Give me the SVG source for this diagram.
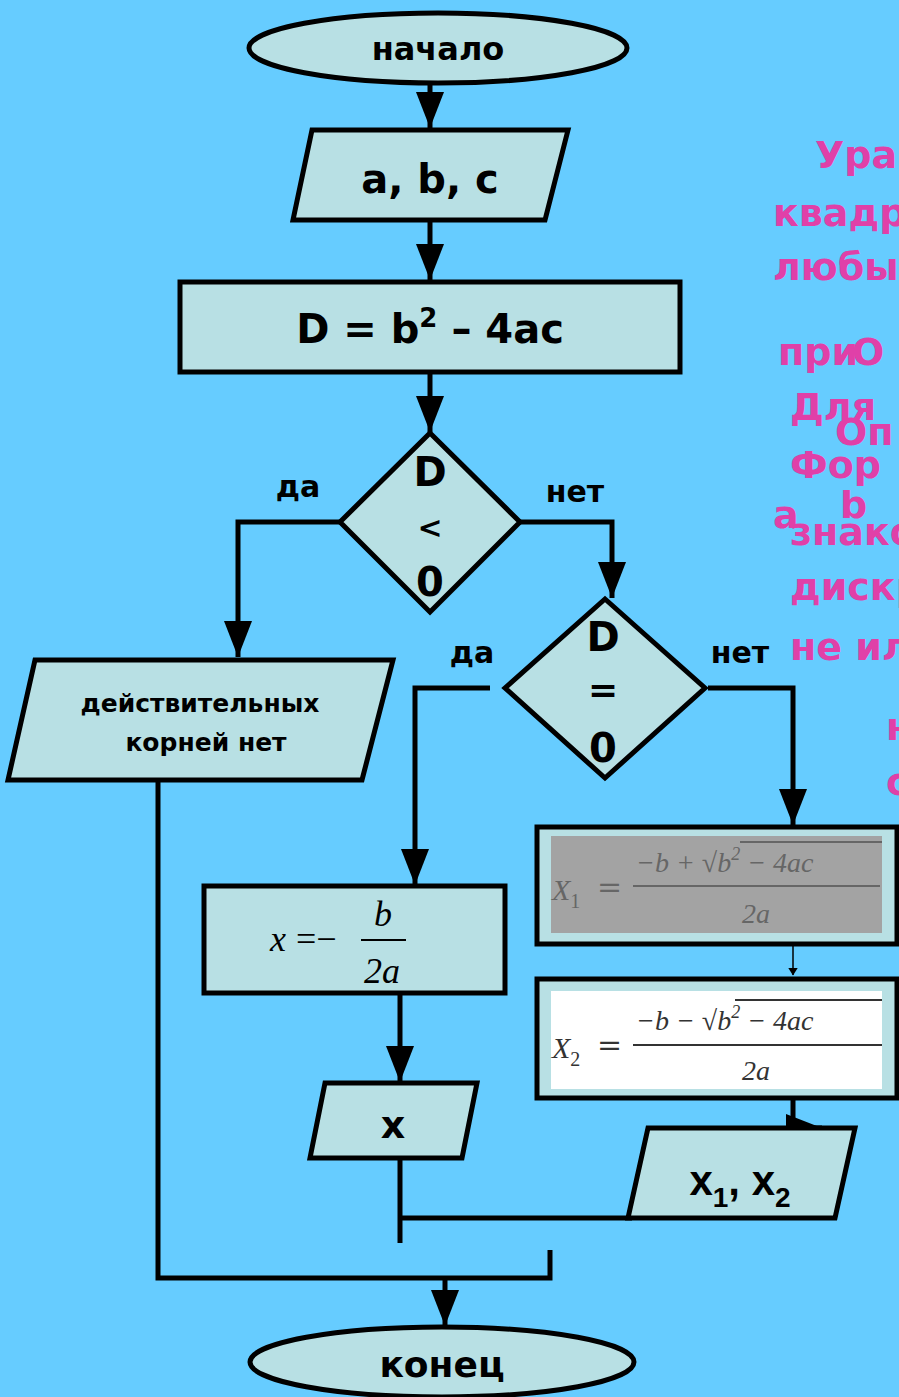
<svg xmlns="http://www.w3.org/2000/svg" width="899" height="1397" viewBox="0 0 899 1397">
<defs>
<style>
.node{fill:#B8E0E4;stroke:#000;stroke-width:5}
.t{font-family:"DejaVu Sans","Liberation Sans",sans-serif;font-weight:bold;fill:#000;text-anchor:middle}
.lbl{font-family:"DejaVu Sans","Liberation Sans",sans-serif;font-weight:bold;fill:#000;font-size:30px;text-anchor:middle}
.pk{font-family:"DejaVu Sans","Liberation Sans",sans-serif;font-weight:bold;fill:#E040A8;font-size:38px}
.ln{fill:none;stroke:#000;stroke-width:5}
.m{font-family:"Liberation Serif","DejaVu Serif",serif;font-style:italic}
</style>
<marker id="ah" markerWidth="8" markerHeight="10" refX="7.5" refY="5" orient="auto" markerUnits="userSpaceOnUse" viewBox="0 0 8 10"><path d="M0,0 L8,5 L0,10 z" fill="#000"/></marker>
<marker id="big" viewBox="0 0 10 10" refX="10" refY="5" markerWidth="36" markerHeight="28" orient="auto" markerUnits="userSpaceOnUse" preserveAspectRatio="none"><path d="M0,0 L10,5 L0,10 z" fill="#000"/></marker>
</defs>
<rect x="0" y="0" width="899" height="1397" fill="#66CCFF"/>

<g id="side-text">
<text class="pk" x="815" y="168">Ура</text>
<text class="pk" x="773" y="226">квадр</text>
<text class="pk" x="773" y="280">любы</text>
<text class="pk" x="778" y="365">при</text>
<text class="pk" x="852" y="365">О</text>
<text class="pk" x="790" y="420">Для</text>
<text class="pk" x="835" y="445">Оп</text>
<text class="pk" x="790" y="478">Фор</text>
<text class="pk" x="773" y="528">a</text>
<text class="pk" x="840" y="518">b</text>
<text class="pk" x="790" y="545">знако</text>
<text class="pk" x="790" y="600">дискр</text>
<text class="pk" x="790" y="660">не ил</text>
<text class="pk" x="886" y="740">н</text>
<text class="pk" x="886" y="795">с</text>
</g>

<g id="connectors">
<path class="ln" d="M430,84 V128" marker-end="url(#big)"/>
<path class="ln" d="M430,220 V280" marker-end="url(#big)"/>
<path class="ln" d="M430,372 V432" marker-end="url(#big)"/>
<path class="ln" d="M340,522 H238 V657" marker-end="url(#big)"/>
<path class="ln" d="M520,522 H612 V598" marker-end="url(#big)"/>
<path class="ln" d="M490,688 H415 V885" marker-end="url(#big)"/>
<path class="ln" d="M708,688 H793 V825" marker-end="url(#big)"/>
<path d="M793,944 V975" stroke="#000" stroke-width="1.5" fill="none" marker-end="url(#ah)"/>
<path class="ln" d="M793,1098 V1128 H822" marker-end="url(#big)"/>
<path class="ln" d="M400,993 V1082" marker-end="url(#big)"/>
<path class="ln" d="M400,1158 V1243"/>
<path class="ln" d="M400,1218 H632"/>
<path class="ln" d="M158,780 V1278 H550 V1250"/>
<path class="ln" d="M445,1278 V1326" marker-end="url(#big)"/>
<text class="lbl" x="298" y="497">да</text>
<text class="lbl" x="575" y="502">нет</text>
<text class="lbl" x="472" y="663">да</text>
<text class="lbl" x="740" y="663">нет</text>
</g>

<g id="start">
<ellipse class="node" cx="438" cy="48" rx="189" ry="35"/>
<text class="t" x="438" y="60" font-size="32">начало</text>
</g>

<g id="input-abc">
<polygon class="node" points="312,130 568,130 545,220 293,220"/>
<text class="t" x="430" y="193" font-size="40">a, b, c</text>
</g>

<g id="calc-d">
<rect class="node" x="180" y="282" width="500" height="90"/>
<text class="t" x="430" y="343" font-size="40">D = b<tspan font-size="26" dy="-16">2</tspan><tspan dy="16"> – 4ac</tspan></text>
</g>

<g id="cond-dlt0">
<polygon class="node" points="430,433 520,522 430,612 340,522"/>
<text class="t" x="430" y="486" font-size="40">D</text>
<text class="t" x="430" y="538" font-size="30">&lt;</text>
<text class="t" x="430" y="596" font-size="40">0</text>
</g>

<g id="no-roots">
<polygon class="node" points="35,660 393,660 362,780 8,780"/>
<text class="t" x="200" y="712" font-size="25">действительных</text>
<text class="t" x="206" y="751" font-size="25">корней нет</text>
</g>

<g id="cond-deq0">
<polygon class="node" points="605,599 705,688 605,778 505,688"/>
<text class="t" x="603" y="651" font-size="40">D</text>
<text class="t" x="603" y="702" font-size="36">=</text>
<text class="t" x="603" y="762" font-size="40">0</text>
</g>

<g id="calc-x">
<rect class="node" x="204" y="886" width="301" height="107"/>
<text class="m" x="270" y="951" font-size="36">x</text>
<text x="296" y="951" font-size="36" font-family="'Liberation Serif',serif">=−</text>
<text class="m" x="383" y="926" font-size="36" text-anchor="middle">b</text>
<line x1="361" y1="940" x2="406" y2="940" stroke="#000" stroke-width="2"/>
<text class="m" x="382" y="983" font-size="36" text-anchor="middle">2a</text>
</g>

<g id="calc-x1">
<rect class="node" x="537" y="827" width="360" height="117"/>
<rect x="551" y="836" width="331" height="97" fill="#A3A3A3"/>
<g fill="#666" font-family="'DejaVu Serif','Liberation Serif',serif">
<text class="m" x="552" y="900" font-size="30">X<tspan font-size="20" dy="8" font-style="normal">1</tspan></text>
<text x="597" y="897" font-size="30">=</text>
<text class="m" x="636" y="872" font-size="28">−b + √<tspan>b</tspan><tspan font-size="18" dy="-12">2</tspan><tspan dy="12"> − 4ac</tspan></text>
<text class="m" x="756" y="923" font-size="28" text-anchor="middle">2a</text>
</g>
<line x1="740" y1="842" x2="882" y2="842" stroke="#666" stroke-width="2"/>
<line x1="633" y1="886" x2="880" y2="886" stroke="#666" stroke-width="2"/>
</g>

<g id="calc-x2">
<rect class="node" x="537" y="979" width="360" height="119"/>
<rect x="551" y="991" width="331" height="98" fill="#FFFFFF"/>
<g fill="#333" font-family="'DejaVu Serif','Liberation Serif',serif">
<text class="m" x="552" y="1058" font-size="30">X<tspan font-size="20" dy="8" font-style="normal">2</tspan></text>
<text x="597" y="1055" font-size="30">=</text>
<text class="m" x="636" y="1030" font-size="28">−b − √<tspan>b</tspan><tspan font-size="18" dy="-12">2</tspan><tspan dy="12"> − 4ac</tspan></text>
<text class="m" x="756" y="1080" font-size="28" text-anchor="middle">2a</text>
</g>
<line x1="735" y1="1000" x2="882" y2="1000" stroke="#333" stroke-width="2"/>
<line x1="633" y1="1045" x2="882" y2="1045" stroke="#333" stroke-width="2"/>
</g>

<g id="output-x">
<polygon class="node" points="325,1083 477,1083 462,1158 310,1158"/>
<text class="t" x="393" y="1138" font-size="38">x</text>
</g>

<g id="output-x1x2">
<polygon class="node" points="648,1128 855,1128 835,1218 628,1218"/>
<text x="740" y="1195" font-size="42" font-weight="bold" text-anchor="middle" font-family="'Liberation Sans Narrow','Liberation Sans',sans-serif">x<tspan font-size="28" dy="12">1</tspan><tspan dy="-12">, x</tspan><tspan font-size="28" dy="12">2</tspan></text>
</g>

<g id="end">
<ellipse class="node" cx="442" cy="1362" rx="192" ry="35"/>
<text class="t" x="442" y="1377" font-size="36">конец</text>
</g>
</svg>
